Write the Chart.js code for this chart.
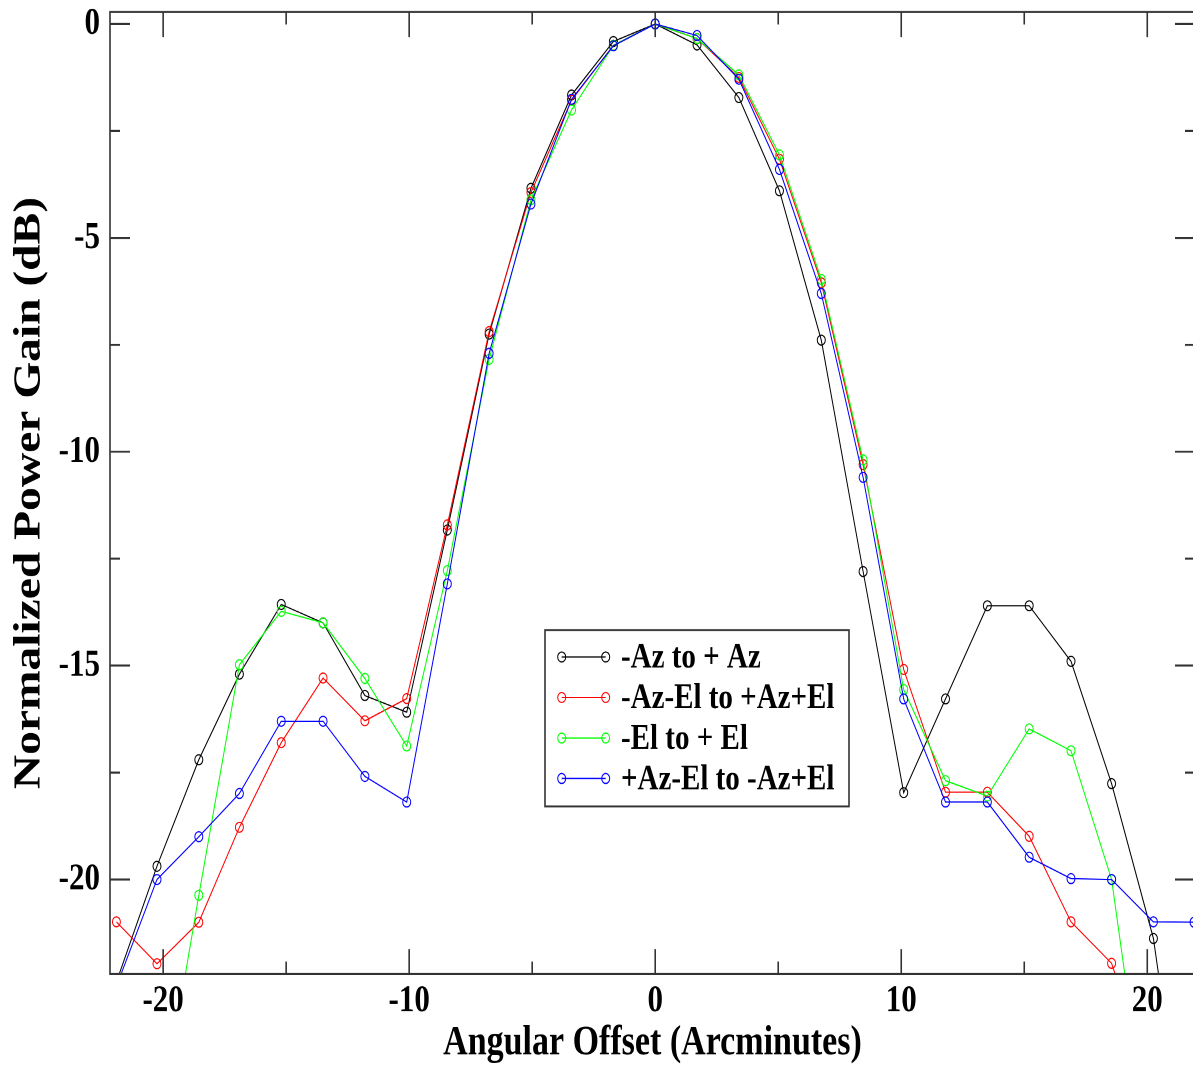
<!DOCTYPE html>
<html>
<head>
<meta charset="utf-8">
<script src="https://cdn.jsdelivr.net/npm/chart.js@4.4.1/dist/chart.umd.min.js"></script>
<style>
  html, body { margin: 0; padding: 0; background: #fff; }
  #outer { width: 1193px; height: 1070px; overflow: hidden; position: relative; }
  /* the original picture is stretched vertically, so the chart is laid out short and scaled */
  #wrap { position: absolute; left: 0; top: 0; width: 1200px; height: 856px; transform: scaleY(1.25); transform-origin: 0 0; }
</style>
</head>
<body>
<div id="outer"><div id="wrap"><canvas id="grafico"></canvas></div></div>
<script>
// Angular offset of each sample (arcminutes)
const offsets = [-21.9, -20.25, -18.55, -16.9, -15.2, -13.5, -11.8, -10.1, -8.45, -6.75, -5.05, -3.4, -1.7, 0,
                 1.7, 3.4, 5.05, 6.75, 8.45, 10.1, 11.8, 13.5, 15.2, 16.9, 18.55, 20.25, 21.9];

// Normalized power gain (dB) per scan
const gainAz = [-22.4, -19.69, -17.2, -15.2, -13.57, -14.0, -15.7, -16.09, -11.83, -7.25, -3.84, -1.66, -0.41, 0,
                -0.49, -1.72, -3.9, -7.39, -12.8, -17.97, -15.78, -13.6, -13.6, -14.9, -17.76, -21.38, -28];
const gainAzEl = [-20.99, -21.97, -21.0, -18.78, -16.8, -15.29, -16.29, -15.77, -11.71, -7.19, -3.94, -1.78, -0.5, 0,
                  -0.34, -1.25, -3.16, -6.05, -10.3, -15.09, -17.96, -17.96, -18.99, -20.99, -21.96, -24.9, -27];
const gainEl = [-28, -26.1, -20.37, -14.98, -13.73, -14.0, -15.3, -16.88, -12.78, -7.84, -4.11, -2.01, -0.5, 0,
                -0.34, -1.19, -3.06, -5.97, -10.19, -15.56, -17.69, -18.05, -16.48, -16.99, -20.0, -27, -30];
const gainAzElInv = [-22.5, -20.0, -19.0, -17.99, -16.3, -16.3, -17.59, -18.19, -13.09, -7.7, -4.21, -1.76, -0.51, 0,
                     -0.27, -1.29, -3.4, -6.3, -10.6, -15.78, -18.19, -18.19, -19.48, -19.98, -20.0, -20.99, -21.0];

const seriesLabels = ['-Az to + Az', '-Az-El to +Az+El', '-El to + El', '+Az-El to -Az+El'];
const seriesColors = ['#000000', '#ff0000', '#00ff00', '#0000ff'];

// ticks
const xTicks = [-20, -10, 0, 10, 20];
const xMinor = [-15, -5, 5, 15];
const yTicks = [0, -5, -10, -15, -20];
const yMinor = [-2.5, -7.5, -12.5, -17.5];

const FONT = "'Liberation Serif', 'Times New Roman', serif";

function puntos(ys) {
    return offsets.map((x, i) => ({ x: x, y: ys[i] }));
}

const series = [gainAz, gainAzEl, gainEl, gainAzElInv];
const datasets = series.map((ys, i) => ({
    label: seriesLabels[i],
    data: puntos(ys),
    borderColor: seriesColors[i],
    borderWidth: 1,
    pointStyle: 'circle',
    pointRadius: 4,
    pointBorderWidth: 1,
    pointBorderColor: seriesColors[i],
    pointBackgroundColor: 'rgba(0,0,0,0)',
    tension: 0,
    order: 4 - i   // last set on top, like grace
}));

// frame + inward ticks on all four sides
const marcoPlugin = {
    id: 'marco',
    afterDatasetsDraw(chart) {
        const { ctx, chartArea: a, scales: { x, y } } = chart;
        ctx.save();
        ctx.strokeStyle = '#333';
        ctx.lineWidth = 1.6;
        ctx.strokeRect(a.left, a.top, a.right - a.left, a.bottom - a.top);
        ctx.beginPath();
        const tx = (v, len) => {
            const px = x.getPixelForValue(v);
            ctx.moveTo(px, a.bottom); ctx.lineTo(px, a.bottom - len);
            ctx.moveTo(px, a.top); ctx.lineTo(px, a.top + len);
        };
        const ty = (v, len) => {
            const py = y.getPixelForValue(v);
            ctx.moveTo(a.left, py); ctx.lineTo(a.left + len, py);
            ctx.moveTo(a.right, py); ctx.lineTo(a.right - len, py);
        };
        xTicks.forEach(v => tx(v, 20));
        xMinor.forEach(v => tx(v, 10));
        yTicks.forEach(v => ty(v, 20));
        yMinor.forEach(v => ty(v, 10));
        ctx.stroke();
        ctx.restore();
    }
};

// legend box inside the plot
const leyendaPlugin = {
    id: 'leyenda',
    afterDraw(chart) {
        const { ctx, chartArea: a } = chart;
        const bx = a.left + 435, by = a.top + 494.5, bw = 304, bh = 141;
        ctx.save();
        ctx.fillStyle = '#fff';
        ctx.fillRect(bx, by, bw, bh);
        ctx.strokeStyle = '#333';
        ctx.lineWidth = 1.6;
        ctx.strokeRect(bx, by, bw, bh);
        ctx.font = 'bold 29px ' + FONT;
        ctx.textBaseline = 'middle';
        ctx.textAlign = 'left';
        chart.data.datasets.forEach((ds, i) => {
            const ry = by + 21.5 + i * 32.4;
            const x0 = bx + 16.7, x1 = bx + 60.7;
            ctx.strokeStyle = ds.borderColor;
            ctx.lineWidth = 1;
            ctx.beginPath();
            ctx.moveTo(x0, ry); ctx.lineTo(x1, ry);
            ctx.stroke();
            [x0, x1].forEach(px => {
                ctx.beginPath();
                ctx.arc(px, ry, 4, 0, Math.PI * 2);
                ctx.stroke();
            });
            ctx.fillStyle = '#000';
            ctx.fillText(ds.label, bx + 76, ry + 1);
        });
        ctx.restore();
    }
};

new Chart(document.getElementById('grafico'), {
    type: 'line',
    data: { datasets: datasets },
    options: {
        responsive: true,
        maintainAspectRatio: false,
        devicePixelRatio: 2,
        animation: false,
        layout: { padding: { top: 9.6, right: 2, bottom: 0, left: 0 } },
        plugins: { legend: { display: false }, tooltip: { enabled: false } },
        scales: {
            x: {
                type: 'linear',
                min: -22.16, max: 21.94,
                grid: { display: false, drawTicks: false },
                border: { display: false },
                afterBuildTicks: s => { s.ticks = xTicks.map(v => ({ value: v })); },
                afterFit: s => { s.height = 76.8; s.paddingLeft = 0; s.paddingRight = 0; },
                ticks: { color: '#000', padding: 3, maxRotation: 0, font: { family: FONT, size: 31, weight: 'bold' } },
                title: {
                    display: true, text: 'Angular Offset (Arcminutes)', color: '#000',
                    font: { family: FONT, size: 34, weight: 'bold' }, padding: { top: 0, bottom: 1 }
                }
            },
            y: {
                type: 'linear',
                min: -22.21, max: 0.28,
                grid: { display: false, drawTicks: false },
                border: { display: false },
                afterBuildTicks: s => { s.ticks = yTicks.map(v => ({ value: v })); },
                afterFit: s => { s.width = 110; s.paddingTop = 0; s.paddingBottom = 0; },
                ticks: { color: '#000', padding: 10, font: { family: FONT, size: 31, weight: 'bold' } },
                title: {
                    display: true, text: 'Normalized Power Gain (dB)', color: '#000',
                    font: { family: FONT, size: 38, weight: 'bold' }, padding: { top: 7, bottom: 0 }
                }
            }
        }
    },
    plugins: [marcoPlugin, leyendaPlugin]
});
</script>
</body>
</html>
